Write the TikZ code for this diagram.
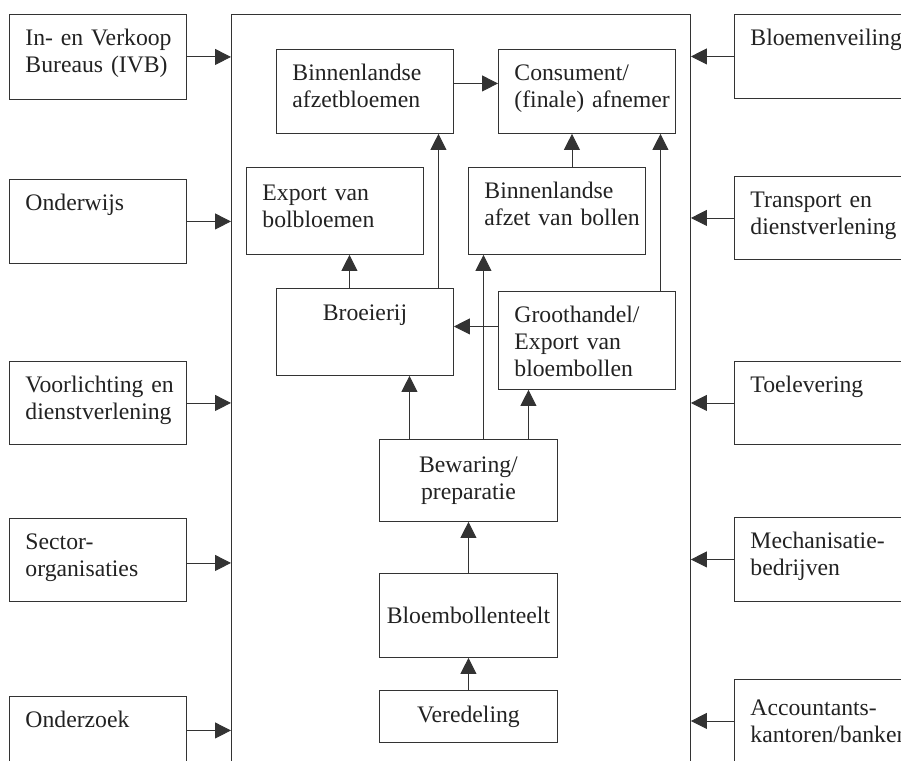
\documentclass[tikz,border=0pt]{standalone}
\usepackage{fontspec}
\setmainfont{Liberation Serif}
\usetikzlibrary{arrows.meta}
\definecolor{lijn}{HTML}{333333}
\definecolor{tekst}{HTML}{222222}
\tikzset{
  blok/.style={draw=lijn, line width=0.9pt, anchor=north west, align=left,
    text width=145pt, inner xsep=16pt, inner ysep=10pt,
    text height=21pt, text depth=43pt, text=tekst,
    font=\fontsize{23.7}{27}\selectfont,
    execute at begin node={\hyphenpenalty=10000\exhyphenpenalty=10000}},
  midblok/.style={draw=lijn, line width=0.9pt, anchor=north west, align=center,
    minimum width=178pt, inner sep=0pt, text=tekst,
    font=\fontsize{23.7}{27}\selectfont},
  pijl/.style={draw=lijn, line width=0.9pt, -{Triangle[length=16pt,width=16pt]}},
}

\begin{document}
\begin{tikzpicture}[x=1pt, y=-1pt]
    \useasboundingbox (0,0) rectangle (901,760);
    \clip (0,0) rectangle (901,760);

    % keten in het midden
    \node[draw=lijn, line width=0.9pt, anchor=north west, minimum width=459pt,
      minimum height=780pt, inner sep=0pt] (keten) at (231,14) {};

    % linkerkant
    \node[blok, text depth=44pt] (ivb) at (9,14) {In-~en~Verkoop\\Bureaus~(IVB)};
    \node[blok] (onderwijs) at (9,179) {Onderwijs};
    \node[blok, text depth=42pt] (voorlichting) at (9,361) {Voorlichting~en\\dienstverlening};
    \node[blok, text depth=42pt] (sector) at (9,518) {Sector-\\organisaties};
    \node[blok] (onderzoek) at (9,696) {Onderzoek};

    % rechterkant
    \node[blok] (veiling) at (734,14) {Bloemenveiling};
    \node[blok, text depth=42pt] (transport) at (734,176) {Transport~en\\dienstverlening};
    \node[blok, text depth=42pt] (toelevering) at (734,361) {Toelevering};
    \node[blok] (mechanisatie) at (734,517) {Mechanisatie-\\bedrijven};
    \node[blok, text height=26pt, text depth=37pt] (accountants) at (734,679) {Accountants-\\kantoren/banken};

    % binnen de keten
    \node[blok] (afzetbloemen) at (276,49) {Binnenlandse\\afzetbloemen};
    \node[blok] (consument) at (498,49) {Consument/\\(finale)~afnemer};
    \node[blok, text height=23pt, text depth=44pt] (exportbloemen) at (246,167) {Export~van\\bolbloemen};
    \node[blok, text depth=46pt] (afzetbollen) at (468,167) {Binnenlandse\\afzet~van~bollen};
    \node[blok, align=center, text height=22pt, text depth=45pt] (broeierij) at (276,288) {Broeierij};
    \node[blok, text depth=57pt] (groothandel) at (498,291) {Groothandel/\\Export~van\\bloembollen};
    \node[midblok, minimum height=82pt] (bewaring) at (379,439) {Bewaring/\\preparatie};
    \node[midblok, minimum height=84pt] (teelt) at (379,573) {Bloembollenteelt};
    \node[midblok, minimum height=52pt] (veredeling) at (379,690) {Veredeling};

    % pijlen van links naar de keten
    \draw[pijl] (ivb.east) -- (ivb.east -| keten.west);
    \draw[pijl] (onderwijs.east) -- (onderwijs.east -| keten.west);
    \draw[pijl] (voorlichting.east) -- (voorlichting.east -| keten.west);
    \draw[pijl] ([yshift=-3pt]sector.east) -- ([yshift=-3pt]sector.east -| keten.west);
    \draw[pijl] ([yshift=8pt]onderzoek.east) -- ([yshift=8pt]onderzoek.east -| keten.west);

    % pijlen van rechts naar de keten
    \draw[pijl] (veiling.west) -- (veiling.west -| keten.east);
    \draw[pijl] (transport.west) -- (transport.west -| keten.east);
    \draw[pijl] (toelevering.west) -- (toelevering.west -| keten.east);
    \draw[pijl] (mechanisatie.west) -- (mechanisatie.west -| keten.east);
    \draw[pijl] (accountants.west) -- (accountants.west -| keten.east);

    % pijlen in de keten
    \draw[pijl] ([yshift=8pt]afzetbloemen.east) -- ([yshift=8pt]afzetbloemen.east -| consument.west);
    \draw[pijl] ([xshift=-15.5pt]broeierij.north) -- ([xshift=-15.5pt]broeierij.north |- exportbloemen.south);
    \draw[pijl] ([xshift=73.5pt]broeierij.north) -- ([xshift=73.5pt]broeierij.north |- afzetbloemen.south);
    \draw[pijl] ([xshift=15pt]afzetbollen.north) -- ([xshift=15pt]afzetbollen.north |- consument.south);
    \draw[pijl] ([xshift=73.5pt]groothandel.north) -- ([xshift=73.5pt]groothandel.north |- consument.south);
    \draw[pijl] ([yshift=14pt]groothandel.west) -- ([yshift=14pt]groothandel.west -| broeierij.east);
    \draw[pijl] ([xshift=-59pt]bewaring.north) -- ([xshift=-59pt]bewaring.north |- broeierij.south);
    \draw[pijl] ([xshift=15pt]bewaring.north) -- ([xshift=15pt]bewaring.north |- afzetbollen.south);
    \draw[pijl] ([xshift=60pt]bewaring.north) -- ([xshift=60pt]bewaring.north |- groothandel.south);
    \draw[pijl] (teelt.north) -- (bewaring.south);
    \draw[pijl] (veredeling.north) -- (teelt.south);
\end{tikzpicture}
\end{document}
